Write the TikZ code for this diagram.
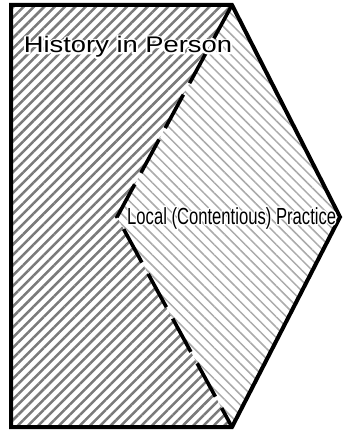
\documentclass[tikz,border=0pt]{standalone}
\usepackage{fontspec}
\setmainfont{Liberation Sans}
\usetikzlibrary{patterns.meta}
\newcommand\halostroke[1]{\special{pdf:literal direct 1 Tr 3.4 w 1 j 1 1 1 RG}#1\special{pdf:literal direct 0 Tr 0 0 0 RG}}
\tikzset{
  outline/.style={draw=black, line width=4bp, line join=miter},
  divider/.style={draw=black, line width=3.6bp, dash pattern=on 38bp off 13bp, line cap=butt},
  darkhatch/.style={pattern={Lines[angle=45,distance=7.3bp,line width=2.5bp]}, pattern color=black!52},
  lighthatch/.style={pattern={Lines[angle=-45,distance=7.3bp,line width=1.5bp]}, pattern color=black!33},
  lbl/.style={anchor=base west, inner sep=0pt, text=black},
}
\begin{document}
\begin{tikzpicture}[x=1bp,y=-1bp]
\useasboundingbox (0,0) rectangle (342,433);
\fill[white] (0,0) rectangle (342,433);
\coordinate (TL) at (11,5);
\coordinate (TR) at (232,5);
\coordinate (RP) at (340,217);
\coordinate (BR) at (232,427);
\coordinate (BL) at (11,427);
\coordinate (LV) at (117,217);
\path[darkhatch] (TL) -- (TR) -- (LV) -- (BR) -- (BL) -- cycle;
\path[lighthatch] (TR) -- (RP) -- (BR) -- (LV) -- cycle;
\draw[divider] (TR) -- (LV) -- (BR);
\draw[outline] (TL) -- (TR) -- (RP) -- (BR) -- (BL) -- cycle;
\node[lbl] (historyhalo) at (23.7,52.7) {\fontsize{22.6bp}{26bp}\selectfont\scalebox{1.21}[1]{\halostroke{History in Person}}};
\node[lbl] (history) at (23.7,52.7) {\fontsize{22.6bp}{26bp}\selectfont\scalebox{1.21}[1]{History in Person}};
\node[lbl] (localhalo) at (127,224) {\fontsize{23.3bp}{27bp}\selectfont\scalebox{0.714}[1]{\halostroke{Local (Contentious) Practice}}};
\node[lbl] (local) at (127,224) {\fontsize{23.3bp}{27bp}\selectfont\scalebox{0.714}[1]{Local (Contentious) Practice}};
\end{tikzpicture}
\end{document}
